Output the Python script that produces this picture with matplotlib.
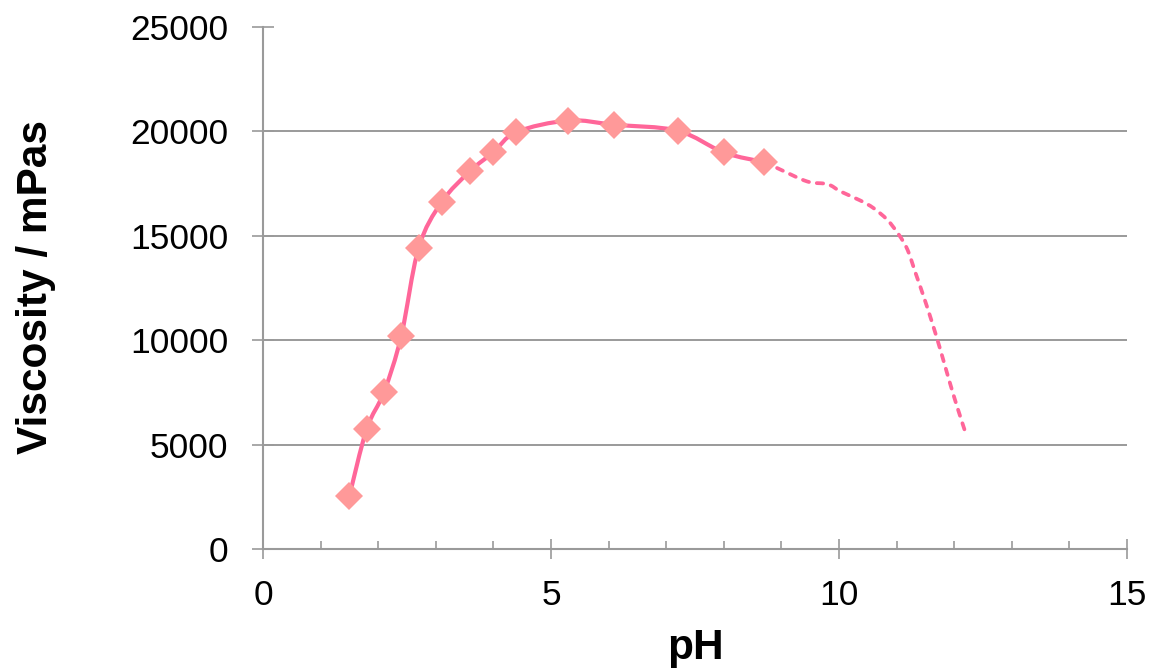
import numpy as np
import matplotlib
matplotlib.use("Agg")
import matplotlib.pyplot as plt
from matplotlib.path import Path
from matplotlib.patches import PathPatch

# ---- data ----
ph_measured = [1.50, 1.80, 2.10, 2.40, 2.70, 3.10, 3.60, 4.00, 4.40, 5.30, 6.10, 7.20, 8.00, 8.70]
visc_measured = [2540, 5750, 7510, 10200, 14400, 16610, 18110, 19000, 19970, 20520, 20320, 20030, 18990, 18530]

ph_extrap = [8.70, 8.93, 9.45, 9.80, 10.03, 10.37, 10.60, 10.84, 11.04, 11.19, 11.33, 11.47, 11.62, 11.76, 11.91, 12.05, 12.20]
visc_extrap = [18530, 18240, 17600, 17475, 17120, 16690, 16325, 15760, 15050, 14330, 13210, 12090, 10815, 9540, 8100, 6820, 5540]

x_ticks = [0, 5, 10, 15]
y_ticks = [0, 5000, 10000, 15000, 20000, 25000]

LINE = "#FF6699"
MARK = "#FF9999"
GRAY = "#9A9A9A"

plt.rcParams['font.family'] = ['Liberation Sans', 'DejaVu Sans']

fig = plt.figure(figsize=(11.49, 6.70), dpi=100)
ax = fig.add_axes([263/1149, 1-549/670, (1127-263)/1149, (549-27)/670])


def smooth_path(xs, ys):
    P = np.column_stack([xs, ys]).astype(float)
    n = len(P)
    verts = [tuple(P[0])]
    codes = [Path.MOVETO]
    for i in range(n - 1):
        p0 = P[i - 1] if i > 0 else P[i]
        p1 = P[i]
        p2 = P[i + 1]
        p3 = P[i + 2] if i + 2 < n else P[i + 1]
        c1 = p1 + (p2 - p0) / 6.0
        c2 = p2 - (p3 - p1) / 6.0
        verts += [tuple(c1), tuple(c2), tuple(p2)]
        codes += [Path.CURVE4] * 3
    return Path(verts, codes)


solid = PathPatch(smooth_path(ph_measured, visc_measured), facecolor='none',
                  edgecolor=LINE, lw=3.0, zorder=3, capstyle='round', joinstyle='round')
ax.add_patch(solid)

dashed = PathPatch(smooth_path(ph_extrap, visc_extrap), facecolor='none',
                   edgecolor=LINE, lw=2.7, zorder=3, linestyle=(0, (1.7, 2.1)),
                   capstyle='round')
ax.add_patch(dashed)

ax.plot(ph_measured, visc_measured, linestyle='none', marker='D', markersize=14.2,
        markerfacecolor=MARK, markeredgecolor=MARK, markeredgewidth=0, zorder=4)

ax.set_xlim(0, 15)
ax.set_ylim(0, 25000)
ax.set_xticks(x_ticks)
ax.set_xticks(np.arange(0, 16, 1), minor=True)
ax.set_yticks(y_ticks)
ax.set_xticklabels([str(t) for t in x_ticks])
ax.set_yticklabels([str(t) for t in y_ticks])

ax.tick_params(axis='x', which='major', direction='inout', length=15, width=1.2,
               color=GRAY, labelsize=25.5, pad=14, labelcolor='black')
ax.tick_params(axis='x', which='minor', direction='in', length=6, width=1.2, color=GRAY)
ax.tick_params(axis='y', which='major', direction='inout', length=16, width=1.2,
               color=GRAY, labelsize=25.5, pad=17, labelcolor='black')

for side in ['top', 'right']:
    ax.spines[side].set_visible(False)
for side in ['left', 'bottom']:
    ax.spines[side].set_color(GRAY)
    ax.spines[side].set_linewidth(1.5)

ax.yaxis.grid(True, color=GRAY, lw=1.4)
for gl, t in zip(ax.get_ygridlines(), y_ticks):
    if t in (0, 25000):
        gl.set_visible(False)
ax.set_axisbelow(True)

fig.text(36/1149, 1-287/670, 'Viscosity / mPas', rotation=90, ha='center', va='center',
         fontsize=30.5, fontweight='bold')
fig.text(695/1149, 1-648/670, 'pH', ha='center', va='center',
         fontsize=30.5, fontweight='bold')

fig.savefig('out.png', dpi=100)
